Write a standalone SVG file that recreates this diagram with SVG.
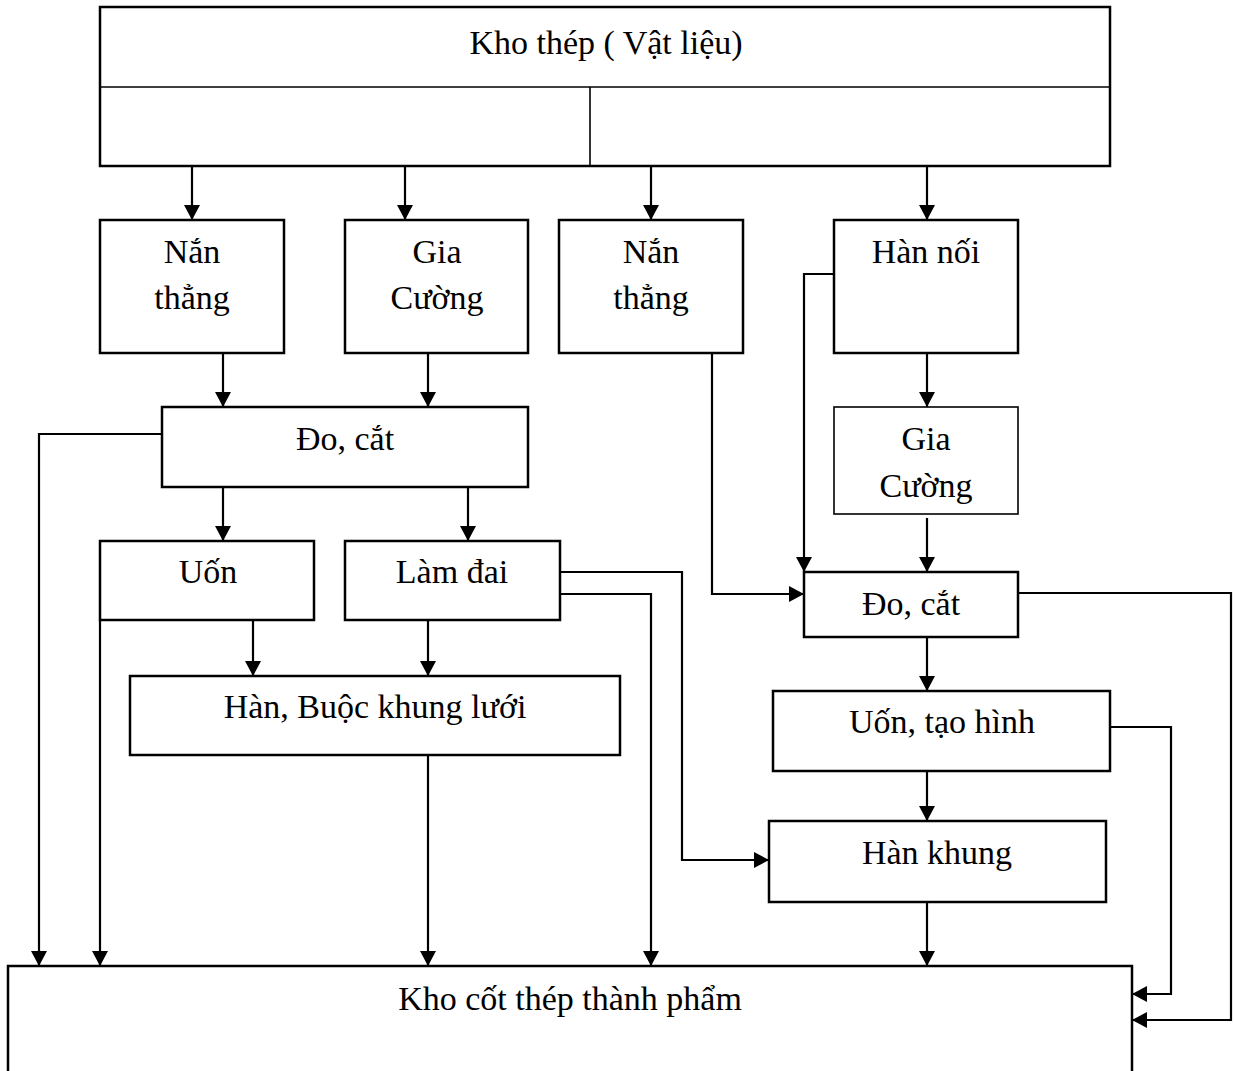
<svg xmlns="http://www.w3.org/2000/svg" width="1235" height="1071" viewBox="0 0 1235 1071">
<style>
.box{fill:#fff;stroke:#000;stroke-width:2.5}
.thin{fill:#fff;stroke:#000;stroke-width:1.6}
.div{fill:none;stroke:#000;stroke-width:1.6}
.ca{fill:none;stroke:#000;stroke-width:2.2;marker-end:url(#ah)}
text{font-family:"Liberation Serif","Times New Roman",serif;font-size:34px;fill:#000;text-anchor:middle}
</style>
<defs>
<marker id="ah" markerUnits="userSpaceOnUse" markerWidth="16" markerHeight="16" refX="15" refY="8" orient="auto">
<path d="M0,0 L15,8 L0,16 Z" fill="#000"/>
</marker>
</defs>
<rect width="1235" height="1071" fill="#fff"/>
<g id="kho-thep">
<rect class="box" x="100" y="7" width="1010" height="159"/>
<line class="div" x1="100" y1="87" x2="1110" y2="87"/>
<line class="div" x1="590" y1="87" x2="590" y2="166"/>
<text x="606" y="54">Kho thép ( Vật liệu)</text>
</g>
<g id="nan-thang-1">
<rect class="box" x="100" y="220" width="184" height="133"/>
<text x="192" y="263">Nắn</text>
<text x="192" y="309">thẳng</text>
</g>
<g id="gia-cuong-1">
<rect class="box" x="345" y="220" width="183" height="133"/>
<text x="437" y="263">Gia</text>
<text x="437" y="309">Cường</text>
</g>
<g id="nan-thang-2">
<rect class="box" x="559" y="220" width="184" height="133"/>
<text x="651" y="263">Nắn</text>
<text x="651" y="309">thẳng</text>
</g>
<g id="han-noi">
<rect class="box" x="834" y="220" width="184" height="133"/>
<text x="926" y="263">Hàn nối</text>
</g>
<g id="do-cat-1">
<rect class="box" x="162" y="407" width="366" height="80"/>
<text x="345" y="450">Đo, cắt</text>
</g>
<g id="gia-cuong-2">
<rect class="thin" x="834" y="407" width="184" height="107"/>
<text x="926" y="450">Gia</text>
<text x="926" y="497">Cường</text>
</g>
<g id="uon">
<rect class="box" x="100" y="541" width="214" height="79"/>
<text x="208" y="583">Uốn</text>
</g>
<g id="lam-dai">
<rect class="box" x="345" y="541" width="215" height="79"/>
<text x="452" y="583">Làm đai</text>
</g>
<g id="do-cat-2">
<rect class="box" x="804" y="572" width="214" height="65"/>
<text x="911" y="615">Đo, cắt</text>
</g>
<g id="han-buoc">
<rect class="box" x="130" y="676" width="490" height="79"/>
<text x="375" y="718">Hàn, Buộc khung lưới</text>
</g>
<g id="uon-tao-hinh">
<rect class="box" x="773" y="691" width="337" height="80"/>
<text x="942" y="733">Uốn, tạo hình</text>
</g>
<g id="han-khung">
<rect class="box" x="769" y="821" width="337" height="81"/>
<text x="937" y="864">Hàn khung</text>
</g>
<g id="kho-cot-thep">
<rect class="box" x="8" y="966" width="1124" height="120"/>
<text x="570" y="1010">Kho cốt thép thành phẩm</text>
</g>
<g id="connectors">
<path class="ca" d="M192,166 V220"/>
<path class="ca" d="M405,166 V220"/>
<path class="ca" d="M651,166 V220"/>
<path class="ca" d="M927,166 V220"/>
<path class="ca" d="M223,353 V407"/>
<path class="ca" d="M428,353 V407"/>
<path class="ca" d="M162,434 H39 V966"/>
<path class="ca" d="M223,487 V541"/>
<path class="ca" d="M468,487 V541"/>
<path class="ca" d="M100,620 V966"/>
<path class="ca" d="M253,620 V676"/>
<path class="ca" d="M428,620 V676"/>
<path class="ca" d="M428,755 V966"/>
<path class="ca" d="M560,572 H682 V860 H769"/>
<path class="ca" d="M560,594 H651 V966"/>
<path class="ca" d="M712,353 V594 H804"/>
<path class="ca" d="M834,274 H804 V572"/>
<path class="ca" d="M927,353 V407"/>
<path class="ca" d="M927,518 V572"/>
<path class="ca" d="M1018,593 H1231 V1020 H1132"/>
<path class="ca" d="M927,637 V691"/>
<path class="ca" d="M1110,727 H1171 V994 H1132"/>
<path class="ca" d="M927,771 V821"/>
<path class="ca" d="M927,902 V966"/>
</g>
</svg>
